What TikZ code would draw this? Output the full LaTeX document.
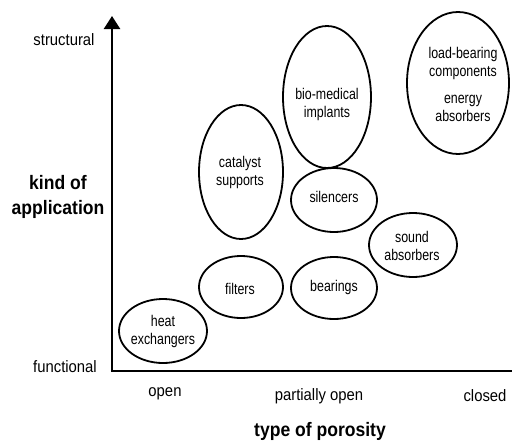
\documentclass[tikz,border=0pt]{standalone}
\usepackage{fontspec}
\setmainfont{Liberation Sans}
\newfontfamily\blobfont[FakeStretch=0.8]{Liberation Sans}
\newfontfamily\labfont[FakeStretch=0.9]{Liberation Sans}
\usetikzlibrary{shapes.geometric,arrows.meta}
\tikzset{
  blob/.style={ellipse, draw, line width=1.8pt, inner sep=0pt},
  btxt/.style={align=center, inner sep=0pt, font=\blobfont\fontsize{15.5}{18}\selectfont},
  axlab/.style={inner sep=0pt, font=\labfont\fontsize{16.5}{18}\selectfont},
  axtitle/.style={align=center, inner sep=0pt, font=\labfont\bfseries\fontsize{19.5}{25}\selectfont},
  axis/.style={line width=2.4pt, -{Triangle[width=16pt,length=13pt]}}
}
\begin{document}
\begin{tikzpicture}[x=1pt,y=-1pt]
\useasboundingbox (0,0) rectangle (512,445);
\clip (0,0) rectangle (512,445);
% axes
\coordinate (o) at (112,371);
\coordinate (ytop) at (112,16);
\coordinate (xend) at (525,371);
\draw[axis] (o) -- (ytop);
\draw[axis] ([xshift=-1.2pt]o) -- (xend);
% axis labels
\node[axlab] (structural) at (64,40) {structural};
\node[axlab] (functional) at (65,367) {functional};
\node[axlab] (open) at (165,394) {open};
\node[axlab] (popen) at (319,396) {partially open};
\node[axlab] (closed) at (485,396) {closed};
\node[axtitle] (kind) at (58,197) {kind of\\application};
\node[axtitle] (type) at (320,431) {type of porosity};
% ellipses
\node[blob, minimum width=88pt, minimum height=64pt] (hx) at (163,331) {};
\node[blob, minimum width=84pt, minimum height=62pt] (fil) at (241,287) {};
\node[blob, minimum width=86pt, minimum height=62pt] (bea) at (334,288) {};
\node[blob, minimum width=88pt, minimum height=64pt] (snd) at (413,245) {};
\node[blob, minimum width=86pt, minimum height=64pt] (sil) at (334,200) {};
\node[blob, minimum width=88pt, minimum height=142pt] (bio) at (327,97) {};
\node[blob, minimum width=84pt, minimum height=134pt] (cat) at (241,172) {};
\node[blob, minimum width=102pt, minimum height=142pt] (load) at (458,83) {};
% ellipse texts
\node[btxt] (hxt) at (163,331) {heat\\exchangers};
\node[btxt] (filt) at (240,289) {filters};
\node[btxt] (beat) at (334,287) {bearings};
\node[btxt] (sndt) at (412,246) {sound\\absorbers};
\node[btxt] (silt) at (334,197) {silencers};
\node[btxt] (biot) at (327,104) {bio-medical\\implants};
\node[btxt] (catt) at (240,172) {catalyst\\supports};
\node[btxt] (loadt) at (463,84) {load-bearing\\components\\[9pt]energy\\absorbers};
\end{tikzpicture}
\end{document}
